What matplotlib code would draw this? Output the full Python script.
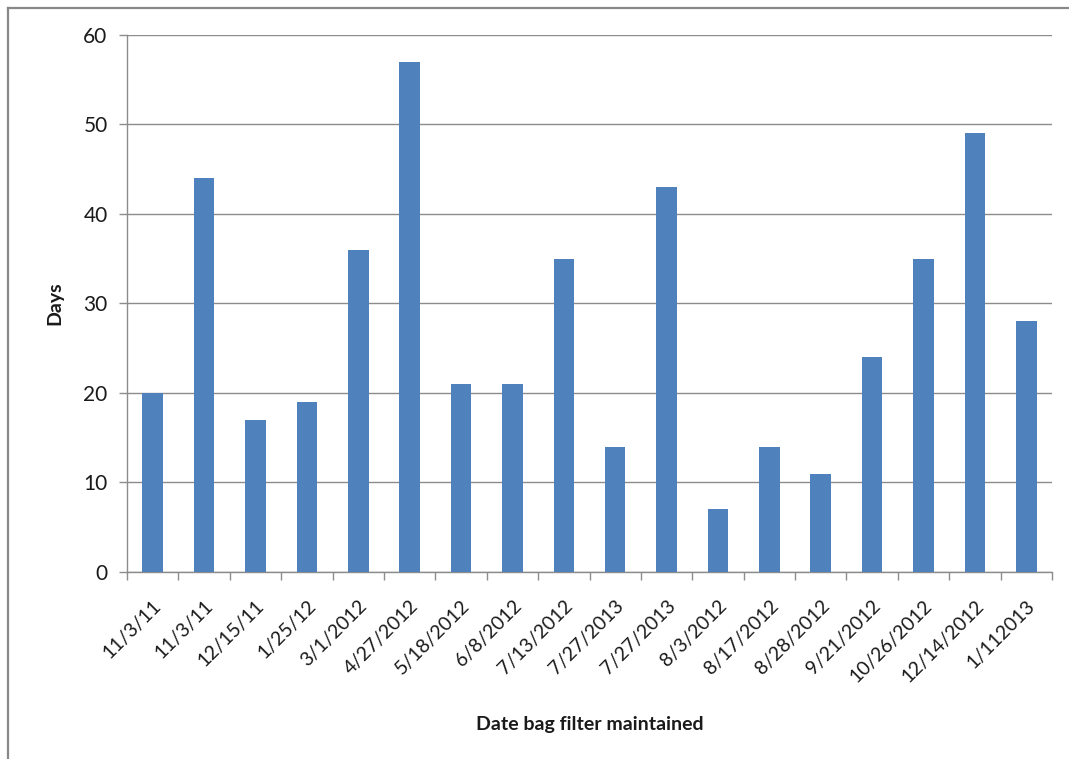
import numpy as np
import matplotlib.pyplot as plt
from matplotlib.lines import Line2D

dates = ['11/3/11', '11/3/11', '12/15/11', '1/25/12', '3/1/2012', '4/27/2012',
         '5/18/2012', '6/8/2012', '7/13/2012', '7/27/2013', '7/27/2013', '8/3/2012',
         '8/17/2012', '8/28/2012', '9/21/2012', '10/26/2012', '12/14/2012', '1/112013']
days = [20, 44, 17, 19, 36, 57, 21, 21, 35, 14, 43, 7, 14, 11, 24, 35, 49, 28]

plt.rcParams['font.family'] = ['Lato', 'DejaVu Sans']

fig = plt.figure(figsize=(10.69, 7.59), dpi=100)
ax = fig.add_axes([0.1188, 0.2464, 0.8653, 0.7075])

x = np.arange(len(days))
ax.bar(x, days, width=0.4, color='#4f81bd', zorder=3)

ax.set_xlim(-0.5, len(days) - 0.5)
ax.set_ylim(0, 60)
ax.set_yticks(range(0, 61, 10))
ax.yaxis.grid(True, color='#8c8c8c', linewidth=1, zorder=0)

ax.set_xticks(x)
ax.set_xticklabels(dates, rotation=45, ha='right', va='top',
                   rotation_mode='anchor', fontsize=14, color='#1a1a1a')
ax.set_xticks(np.arange(-0.5, len(days), 1), minor=True)
ax.tick_params(axis='x', which='major', length=0, pad=18)
ax.tick_params(axis='x', which='minor', length=6, color='#8c8c8c', width=1)
ax.tick_params(axis='y', length=6, color='#8c8c8c', width=1, pad=8,
               labelsize=15, labelcolor='#1a1a1a')

for s in ['top', 'right']:
    ax.spines[s].set_visible(False)
for s in ['left', 'bottom']:
    ax.spines[s].set_color('#8c8c8c')
    ax.spines[s].set_linewidth(1)

ax.set_ylabel('Days', fontsize=14, fontweight='bold', color='#1a1a1a', labelpad=14)
ax.set_xlabel('Date bag filter maintained', fontsize=14, fontweight='bold',
              color='#1a1a1a', labelpad=22)

# outer frame (top and left edges visible)
fig.add_artist(Line2D([8 / 1069, 1], [1 - 8 / 759, 1 - 8 / 759],
                      transform=fig.transFigure, color='#888888', lw=1.6))
fig.add_artist(Line2D([8 / 1069, 8 / 1069], [0, 1 - 8 / 759],
                      transform=fig.transFigure, color='#888888', lw=1.6))

fig.savefig('out.png', dpi=100)
